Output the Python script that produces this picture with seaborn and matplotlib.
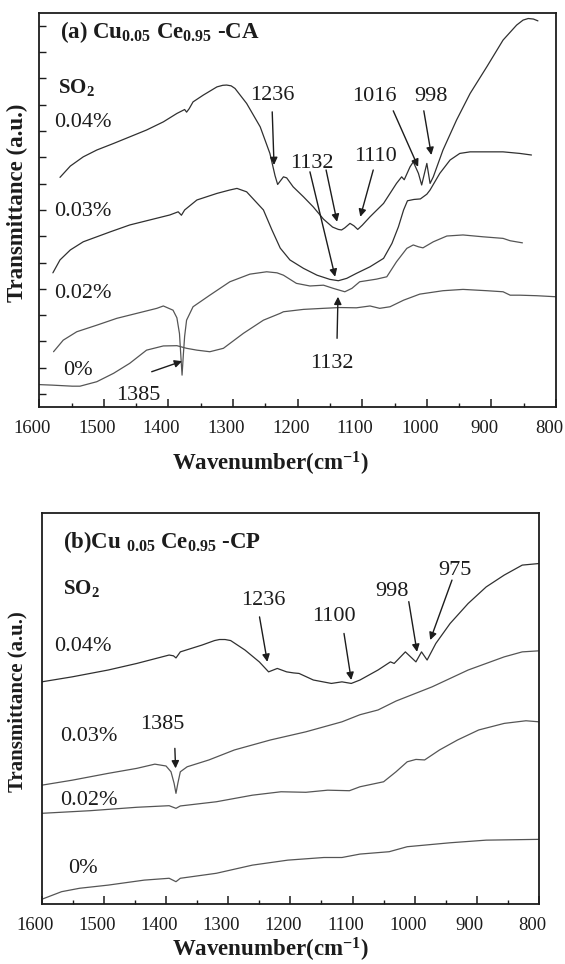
import matplotlib
matplotlib.use("Agg")
import matplotlib.pyplot as plt
import matplotlib.transforms as mtransforms
from matplotlib.ticker import MultipleLocator, NullFormatter
import seaborn as sns

sns.set_theme(style="ticks")
plt.rcParams["font.family"] = ["Liberation Serif", "DejaVu Serif"]
plt.rcParams["mathtext.fontset"] = "custom"
plt.rcParams["mathtext.rm"] = "Liberation Serif"
plt.rcParams["mathtext.bf"] = "Liberation Serif:bold"
plt.rcParams["mathtext.it"] = "Liberation Serif:italic"

# ---------------- (a) Cu0.05Ce0.95-CA spectra (offset transmittance, a.u.) ----------------
a_wn_004 = [1568, 1552, 1532, 1511, 1485, 1460, 1434, 1408, 1387, 1375, 1372, 1368, 1362, 1346,
            1325, 1316, 1310, 1303, 1297, 1279, 1258, 1243, 1235, 1231, 1222, 1217, 1207, 1191, 1176, 1160,
            1146, 1137, 1132, 1127, 1119, 1113, 1107, 1100, 1088, 1067, 1047, 1039, 1035, 1026,
            1021, 1013, 1008, 1000, 995, 990, 975, 954, 933, 907, 882, 861, 851, 843, 835, 828]
a_t_004 = [8.24, 8.67, 9.02, 9.28, 9.53, 9.78, 10.04, 10.35, 10.67, 10.82, 10.72, 10.85, 11.11, 11.37,
           11.68, 11.74, 11.75, 11.72, 11.62, 11.05, 10.16, 9.15, 8.30, 7.97, 8.26, 8.22, 7.88, 7.50, 7.12, 6.65,
           6.35, 6.26, 6.24, 6.32, 6.49, 6.40, 6.26, 6.42, 6.74, 7.25, 8.01, 8.26, 8.15, 8.64,
           8.83, 8.39, 7.95, 8.77, 8.01, 8.26, 9.28, 10.42, 11.43, 12.45, 13.46, 14.03, 14.22, 14.28, 14.26, 14.19]

a_wn_003 = [1579, 1568, 1552, 1532, 1511, 1490, 1460, 1429, 1398, 1385, 1380, 1375, 1356, 1325,
            1305, 1294, 1279, 1253, 1240, 1227, 1212, 1191, 1170, 1150, 1137, 1124, 1109, 1088,
            1067, 1054, 1044, 1036, 1030, 1020, 1010, 1000, 995, 980, 964, 949, 933, 907, 882,
            856, 838]
a_t_003 = [4.61, 5.10, 5.48, 5.79, 5.98, 6.17, 6.43, 6.62, 6.81, 6.93, 6.80, 7.00, 7.38, 7.63,
           7.76, 7.82, 7.69, 7.00, 6.25, 5.55, 5.10, 4.78, 4.52, 4.36, 4.31, 4.40, 4.59, 4.84,
           5.16, 5.73, 6.36, 7.00, 7.35, 7.40, 7.42, 7.60, 7.76, 8.39, 8.90, 9.15, 9.21, 9.21, 9.21,
           9.15, 9.09]

a_wn_002 = [1578, 1563, 1542, 1511, 1480, 1449, 1418, 1408, 1393, 1387, 1383, 1381, 1379, 1377,
            1375, 1372, 1362, 1336, 1305, 1274, 1248, 1232, 1222, 1202, 1181, 1160, 1145, 1127,
            1116, 1104, 1078, 1062, 1047, 1031, 1021, 1013, 1006, 990, 969, 944, 913, 882, 871, 852]
a_t_002 = [1.61, 2.05, 2.37, 2.62, 2.88, 3.07, 3.26, 3.35, 3.19, 2.90, 2.30, 1.50, 0.72, 1.50,
           2.20, 2.81, 3.32, 3.76, 4.27, 4.56, 4.65, 4.61, 4.52, 4.21, 4.11, 4.14, 4.02, 3.89,
           4.02, 4.27, 4.37, 4.46, 5.03, 5.54, 5.67, 5.60, 5.56, 5.79, 6.01, 6.05, 5.98, 5.92, 5.83, 5.75]

a_wn_000 = [1600, 1580, 1549, 1537, 1511, 1485, 1460, 1434, 1408, 1387, 1372, 1356, 1336, 1315,
            1284, 1253, 1227, 1222, 1191, 1160, 1135, 1109, 1088, 1073, 1057, 1036, 1011, 975,
            944, 907, 882, 871, 856, 830, 800]
a_t_000 = [0.36, 0.34, 0.30, 0.30, 0.47, 0.79, 1.17, 1.67, 1.83, 1.84, 1.74, 1.67, 1.61, 1.74,
           2.31, 2.81, 3.07, 3.13, 3.22, 3.26, 3.29, 3.28, 3.35, 3.26, 3.32, 3.57, 3.80, 3.93,
           3.98, 3.93, 3.89, 3.76, 3.76, 3.74, 3.70]

# ---------------- (b) Cu0.05Ce0.95-CP spectra ----------------
b_wn_004 = [1600, 1551, 1493, 1447, 1395, 1388, 1384, 1377, 1342, 1322, 1314, 1305, 1296, 1273, 1250, 1235,
            1221, 1206, 1195, 1186, 1163, 1134, 1117, 1102, 1088, 1059, 1039, 1033, 1015, 998,
            989, 980, 966, 943, 914, 885, 856, 827, 800]
b_t_004 = [8.45, 8.64, 8.90, 9.15, 9.47, 9.44, 9.36, 9.59, 9.85, 10.02, 10.06, 10.06, 10.02, 9.66, 9.21, 8.83,
           8.96, 8.83, 8.79, 8.77, 8.52, 8.39, 8.45, 8.39, 8.52, 8.90, 9.21, 9.15, 9.59, 9.21,
           9.59, 9.28, 9.91, 10.67, 11.43, 12.06, 12.51, 12.89, 12.95]

b_wn_003 = [1600, 1551, 1493, 1447, 1418, 1400, 1392, 1387, 1384, 1381, 1377, 1366, 1331, 1290,
            1232, 1175, 1117, 1088, 1059, 1030, 972, 914, 856, 827, 800]
b_t_003 = [4.52, 4.71, 4.97, 5.16, 5.32, 5.25, 5.03, 4.59, 4.21, 4.59, 5.03, 5.22, 5.48, 5.86,
           6.24, 6.55, 6.93, 7.20, 7.38, 7.72, 8.26, 8.90, 9.40, 9.59, 9.63]

b_wn_002 = [1600, 1522, 1447, 1395, 1384, 1377, 1319, 1261, 1215, 1175, 1140, 1105, 1088, 1050,
            1030, 1012, 998, 984, 960, 931, 897, 856, 821, 800]
b_t_002 = [3.45, 3.55, 3.68, 3.74, 3.64, 3.73, 3.89, 4.14, 4.27, 4.25, 4.33, 4.31, 4.46, 4.65,
           5.03, 5.41, 5.50, 5.48, 5.86, 6.24, 6.62, 6.87, 6.97, 6.93]

b_wn_000 = [1600, 1568, 1539, 1493, 1435, 1395, 1384, 1377, 1319, 1261, 1204, 1146, 1117, 1088,
            1041, 1012, 943, 885, 800]
b_t_000 = [0.18, 0.47, 0.60, 0.72, 0.91, 0.98, 0.85, 0.98, 1.17, 1.48, 1.67, 1.77, 1.77, 1.90,
           1.99, 2.18, 2.33, 2.43, 2.46]

# SO2 concentration labels and peak positions
so2_levels = ["0.04%", "0.03%", "0.02%", "0%"]
a_peaks = ["1236", "1132", "1110", "1016", "998", "1132", "1385"]
b_peaks = ["1236", "1100", "998", "975", "1385"]

INK = "#1c1c1c"
DARK = "#303030"
GREY = "#555555"

fig = plt.figure(figsize=(5.65, 9.64), dpi=100)
ax_a = fig.add_axes([0.0696, 0.5773, 0.9145, 0.4095])
ax_b = fig.add_axes([0.0738, 0.0622, 0.8802, 0.4056])

curves_a = [(a_wn_004, a_t_004, DARK), (a_wn_003, a_t_003, DARK),
            (a_wn_002, a_t_002, GREY), (a_wn_000, a_t_000, GREY)]
curves_b = [(b_wn_004, b_t_004, DARK), (b_wn_003, b_t_003, GREY),
            (b_wn_002, b_t_002, GREY), (b_wn_000, b_t_000, GREY)]

for ax, curves in ((ax_a, curves_a), (ax_b, curves_b)):
    for wn, t, col in curves:
        sns.lineplot(x=wn, y=t, ax=ax, color=col, linewidth=0.9,
                     estimator=None, sort=False)

shift = mtransforms.ScaledTranslation(-0.07, 0, fig.dpi_scale_trans)
for ax in (ax_a, ax_b):
    ax.set_xlim(1600, 800)
    ax.xaxis.set_major_locator(MultipleLocator(100))
    ax.xaxis.set_minor_locator(MultipleLocator(50))
    ax.tick_params(axis="x", which="major", direction="in", length=6, width=1.1,
                   color=INK, labelsize=13.5, labelcolor=INK, pad=9, top=False)
    ax.tick_params(axis="x", which="minor", direction="in", length=3, width=1.0,
                   color=INK, top=False)
    for sp in ax.spines.values():
        sp.set_visible(True)
        sp.set_color(INK)
        sp.set_linewidth(1.3)
    ax.set_xlabel("")
    ax.set_ylabel("")
    for lab in ax.get_xticklabels():
        lab.set_transform(lab.get_transform() + shift)

ax_a.set_ylim(-0.51, 14.5)
ax_a.set_yticks(range(0, 15))
ax_a.yaxis.set_major_formatter(NullFormatter())
ax_a.tick_params(axis="y", direction="in", length=5, width=1.0, color=INK, right=False)

ax_b.set_ylim(0, 14.87)
ax_b.set_yticks([])

txt = dict(color=INK, fontsize=16)
bold = dict(color=INK, fontsize=15, fontweight="bold")
head = dict(color=INK, fontsize=16.5, fontweight="bold")
arrow = dict(arrowstyle="-|>", color=INK, lw=1.0, mutation_scale=11, shrinkA=0, shrinkB=0)

# panel (a) text
ax_a.text(1568, 13.76, r"(a) Cu$_{\mathbf{0.05}}$ Ce$_{\mathbf{0.95}}$ -CA", ha="left", va="center", **head)
ax_a.text(1571, 11.67, r"SO$_{\mathbf{2}}$", ha="left", va="center", **bold)
for lab, (x, y) in zip(so2_levels, [(1577, 10.34), (1577, 6.93), (1577, 3.83), (1563, 0.91)]):
    ax_a.text(x, y, lab, ha="left", va="center", **txt)

a_label_xy = [(1240, 11.37), (1178, 8.77), (1079, 9.02), (1081, 11.30), (993, 11.30), (1147.5, 1.17), (1447, -0.04)]
for lab, (x, y) in zip(a_peaks, a_label_xy):
    ax_a.text(x, y, lab, ha="center", va="center", **txt)

a_arrows = [((1239.4, 10.73), (1236.6, 8.71)), ((1156, 8.52), (1139, 6.55)),
            ((1181, 8.45), (1142, 4.46)), ((1083, 8.52), (1103, 6.74)),
            ((1052, 10.77), (1013.5, 8.64)), ((1004.7, 10.77), (993, 9.09)),
            ((1139, 2.12), (1137.6, 3.70)), ((1426, 0.85), (1379, 1.25))]
for tail, tip in a_arrows:
    ax_a.annotate("", xy=tip, xytext=tail, arrowprops=arrow)

# panel (b) text
ax_b.text(1565, 13.77, r"(b)Cu ${}_{\mathbf{0.05}}$ Ce${}_{\mathbf{0.95}}$ -CP", ha="left", va="center", **head)
ax_b.text(1565, 12.0, r"SO$_{\mathbf{2}}$", ha="left", va="center", **bold)
for lab, (x, y) in zip(so2_levels, [(1580, 9.78), (1571, 6.36), (1571, 3.95), (1557, 1.36)]):
    ax_b.text(x, y, lab, ha="left", va="center", **txt)

b_label_xy = [(1244, 11.56), (1130, 10.92), (1037, 11.88), (936, 12.70), (1406, 6.81)]
for lab, (x, y) in zip(b_peaks, b_label_xy):
    ax_b.text(x, y, lab, ha="center", va="center", **txt)

b_arrows = [((1249.6, 10.92), (1237, 9.21)), ((1113.7, 10.29), (1102, 8.52)),
            ((1009.5, 11.5), (996.2, 9.59)), ((940, 12.32), (975, 10.04)),
            ((1385.8, 5.92), (1384.6, 5.16))]
for tail, tip in b_arrows:
    ax_b.annotate("", xy=tip, xytext=tail, arrowprops=arrow)

# axis titles
xlab = r"Wavenumber(cm$^{\mathbf{-1}}$)"
fig.text(270 / 565, 1 - 464 / 964, xlab, ha="center", va="center", fontsize=16.5, fontweight="bold", color=INK)
fig.text(270 / 565, 1 - 950 / 964, xlab, ha="center", va="center", fontsize=16.5, fontweight="bold", color=INK)
fig.text(17 / 565, 1 - 203 / 964, "Transmittance (a.u.)", ha="center", va="center", rotation=90,
         fontsize=16.5, fontweight="bold", color=INK)
fig.text(17 / 565, 1 - 702 / 964, "Transmittance (a.u.)", ha="center", va="center", rotation=90,
         fontsize=15, fontweight="bold", color=INK)

fig.savefig("out.png", dpi=100, facecolor="white")
